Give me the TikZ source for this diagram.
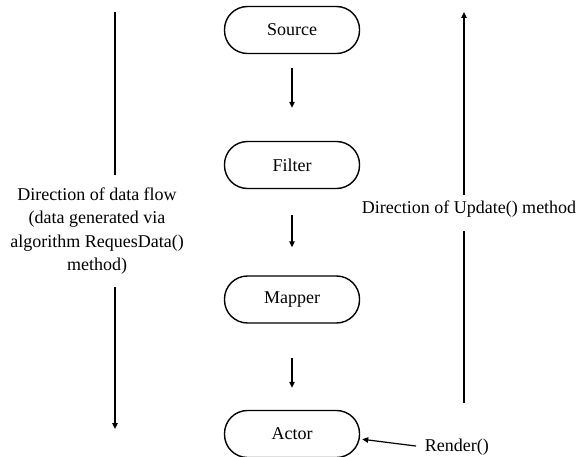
\documentclass[tikz,border=0pt]{standalone}
\usepackage{fontspec}
\setmainfont{Liberation Serif}
\usetikzlibrary{arrows.meta}

\begin{document}
\begin{tikzpicture}[x=1pt,y=-1pt,line width=1.2pt,
  stage/.style={draw,line width=1.4pt,rounded corners=23pt,minimum width=135pt,minimum height=47pt,font=\fontsize{18}{22}\selectfont},
  flow/.style={-{Triangle[length=6pt,width=5.5pt]}},
  note/.style={font=\fontsize{18}{23.3}\selectfont,align=center}]
  \useasboundingbox (0,0) rectangle (580,457);
  \node[stage] (src) at (292,30) {Source};
  \node[stage] (flt) at (292,165) {Filter};
  \node[stage] (map) at (292,299.5) {Mapper};
  \node[stage] (act) at (292,434) {Actor};
  \foreach \a/\b/\s/\e in {src/flt/14/33, flt/map/26/28, map/act/34/22}
    \draw[flow,shorten <=\s pt,shorten >=\e pt] (\a) -- (\b);
  \coordinate (ltop) at (115,12);
  \coordinate (lbot) at (115,429);
  \node[note,inner ysep=12pt] (ltxt) at (97,231) {Direction of data flow\\(data generated via\\algorithm RequesData()\\method)};
  \draw (ltop) -- (ltop |- ltxt.north);
  \draw[flow] (ltop |- ltxt.south) -- (lbot);
  \coordinate (rtop) at (464,12);
  \coordinate (rbot) at (464,403);
  \node[note,anchor=base,text depth=12pt,inner ysep=5pt] (rtxt) at (469,213) {Direction of Update() method};
  \draw (rbot) -- (rbot |- rtxt.south);
  \draw[flow] (rbot |- rtxt.north) -- (rtop);
  \node[note,anchor=base west] (rnd) at (421,451) {Render()};
  \draw[flow,shorten <=5pt,shorten >=2pt] (rnd.west) -- ([yshift=-5pt]act.east);
\end{tikzpicture}
\end{document}
